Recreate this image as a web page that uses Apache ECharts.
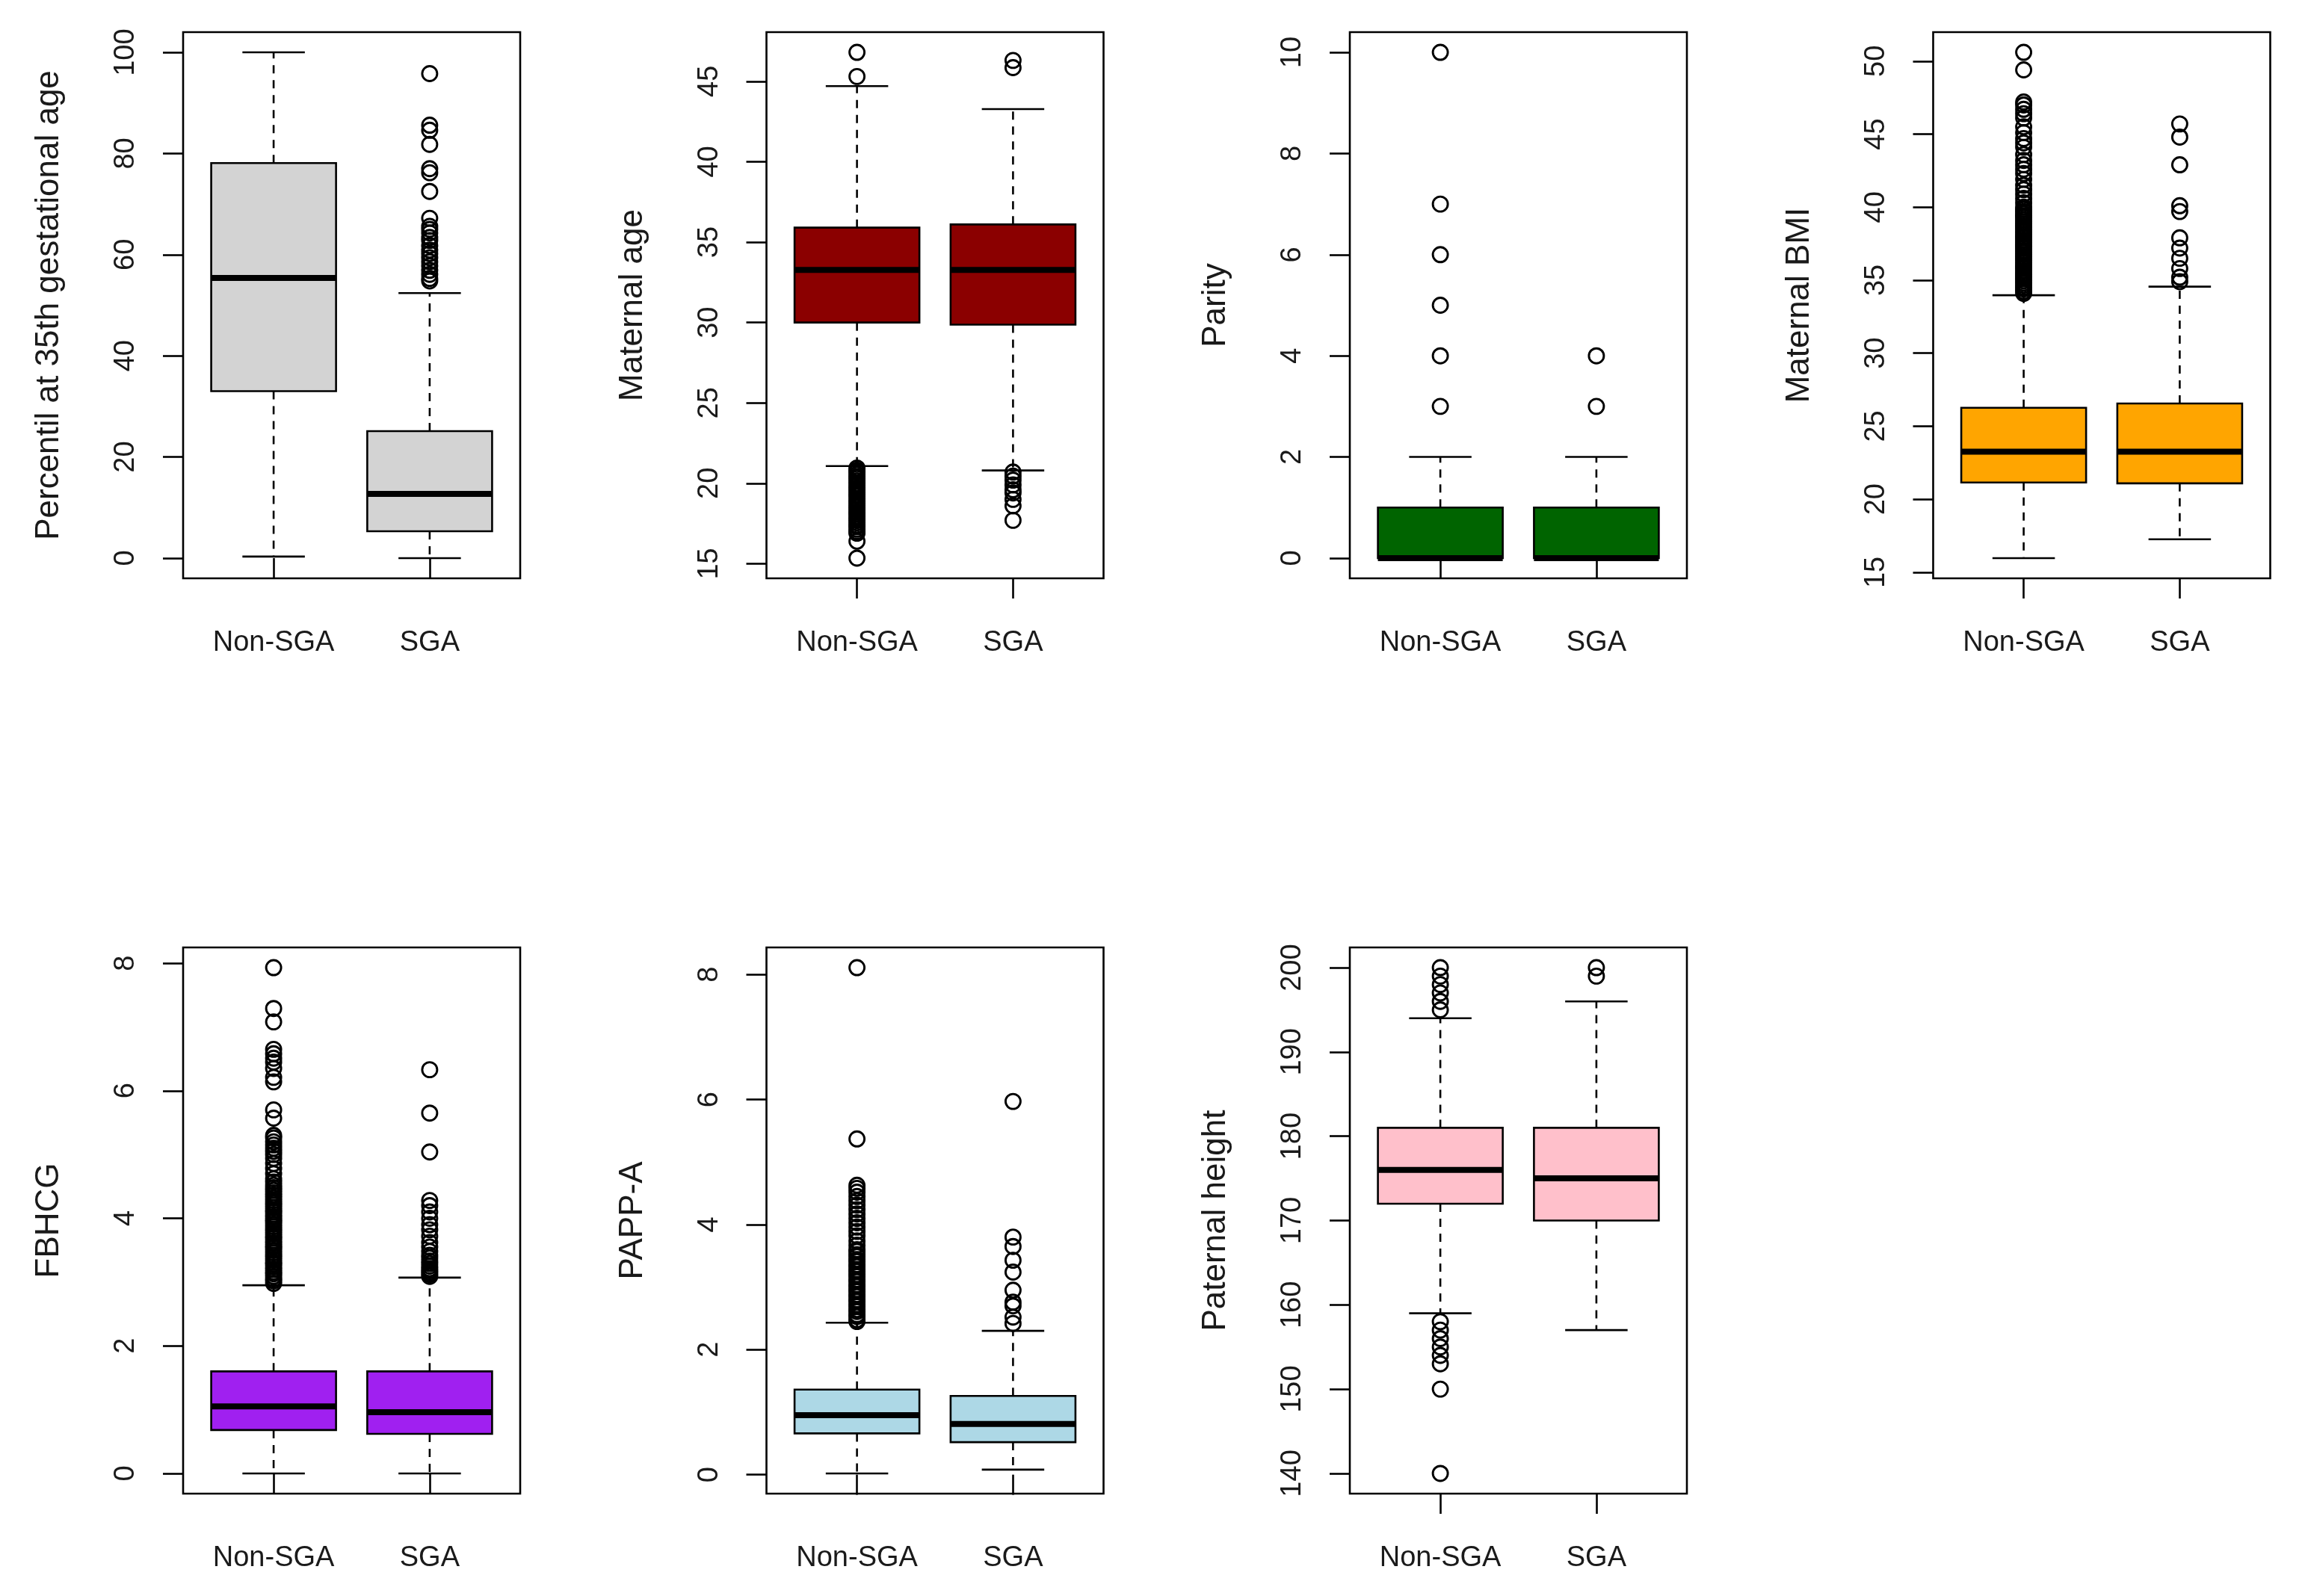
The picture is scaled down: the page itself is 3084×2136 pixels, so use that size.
<!DOCTYPE html>
<html><head><meta charset="utf-8">
<script src="https://cdn.jsdelivr.net/npm/echarts@6/dist/echarts.min.js"></script>
<style>html,body{margin:0;padding:0;background:#fff}#c{width:3084px;height:2136px}</style>
</head><body><div id="c"></div>
<script>
// ---------------- DATA ----------------
const groups = ['Non-SGA', 'SGA'];
// stats per group: [lower whisker, Q1, median, Q3, upper whisker]

const percentilTitle = 'Percentil at 35th gestational age';
const percentilStats = [[0.3, 33.0, 55.4, 78.1, 100], [0, 5.3, 12.7, 25.1, 52.4]];
const percentilOutliers = [[], [95.8, 85.6, 84.6, 81.8, 77.0, 76.2, 72.5, 67.2, 65.6, 65.0, 64.3, 63.4, 62.8, 61.8, 60.9, 60.2, 59.4, 58.6, 57.8, 56.9, 56.1, 55.3, 54.8]];
const percentilTicks = [0, 20, 40, 60, 80, 100];

const ageTitle = 'Maternal age';
const ageStats = [[21.07, 30.0, 33.27, 35.9, 44.7], [20.8, 29.87, 33.27, 36.1, 43.27]];
const ageOutliers = [
  [46.8, 45.3, 20.95, 20.82, 20.7, 20.55, 20.41, 20.3, 20.16, 20.0, 19.87, 19.72, 19.6, 19.46, 19.31, 19.2, 19.04, 18.9, 18.77, 18.62, 18.5, 18.36, 18.21, 18.1, 17.94, 17.8, 17.69, 17.55, 17.41, 17.3, 17.14, 17.0, 16.9, 16.4, 15.35],
  [46.3, 45.85, 20.7, 20.45, 20.2, 19.9, 19.6, 19.4, 19.0, 18.6, 17.7]
];
const ageTicks = [15, 20, 25, 30, 35, 40, 45];

const parityTitle = 'Parity';
const parityStats = [[0, 0, 0, 1, 2], [0, 0, 0, 1, 2]];
const parityOutliers = [[3, 4, 5, 6, 7, 10], [3, 4]];
const parityTicks = [0, 2, 4, 6, 8, 10];

const bmiTitle = 'Maternal BMI';
const bmiStats = [[15.97, 21.15, 23.26, 26.26, 33.97], [17.26, 21.09, 23.26, 26.56, 34.56]];
const bmiOutliers = [
  [34.1, 34.24, 34.4, 34.51, 34.66, 34.8, 34.95, 35.1, 35.21, 35.36, 35.5, 35.64, 35.8, 35.91, 36.05, 36.2, 36.34, 36.5, 36.61, 36.75, 36.9, 37.04, 37.2, 37.31, 37.45, 37.6, 37.74, 37.9, 38.0, 38.15, 38.3, 38.44, 38.6, 38.71, 38.85, 39.0, 39.14, 39.3, 39.41, 39.55, 39.7, 39.85,
   40.0, 40.3, 40.6, 40.9, 41.2, 41.5, 41.9, 42.3, 42.6, 42.9, 43.2, 43.6, 44.1, 44.4, 44.7, 45.1, 45.5, 46.1, 46.4, 46.7, 47.0, 47.2, 49.4, 50.6],
  [45.7, 44.8, 42.9, 40.1, 39.7, 37.9, 37.2, 36.5, 35.8, 35.2, 34.9]
];
const bmiTicks = [15, 20, 25, 30, 35, 40, 45, 50];

const fbhcgTitle = 'FBHCG';
const fbhcgStats = [[0, 0.68, 1.05, 1.6, 2.95], [0, 0.62, 0.96, 1.6, 3.07]];
const fbhcgOutliers = [
  [2.98, 3.02, 3.05, 3.09, 3.13, 3.16, 3.2, 3.24, 3.28, 3.31, 3.35, 3.39, 3.42, 3.46, 3.5, 3.54, 3.57, 3.61, 3.65, 3.69, 3.72, 3.76, 3.8, 3.83, 3.87, 3.91, 3.95, 3.98, 4.02, 4.06, 4.1, 4.13, 4.17, 4.21, 4.24, 4.28, 4.32, 4.36, 4.4, 4.44, 4.48, 4.52, 4.57, 4.62, 4.7, 4.78, 4.86, 4.94, 5.0, 5.05, 5.1, 5.15, 5.2, 5.26, 5.3,
   5.57, 5.7, 6.14, 6.21, 6.35, 6.45, 6.51, 6.58, 6.65, 7.08, 7.29, 7.93],
  [6.33, 5.65, 5.04, 4.28, 4.2, 4.1, 4.0, 3.9, 3.82, 3.72, 3.62, 3.55, 3.48, 3.42, 3.38, 3.33, 3.29, 3.25, 3.21, 3.18, 3.15, 3.12, 3.09]
];
const fbhcgTicks = [0, 2, 4, 6, 8];

const pappTitle = 'PAPP-A';
const pappStats = [[0.02, 0.66, 0.95, 1.36, 2.43], [0.08, 0.52, 0.81, 1.26, 2.3]];
const pappOutliers = [
  [2.45, 2.48, 2.53, 2.56, 2.61, 2.64, 2.69, 2.72, 2.77, 2.8, 2.85, 2.88, 2.93, 2.96, 3.01, 3.04, 3.09, 3.12, 3.17, 3.2, 3.25, 3.28, 3.33, 3.36, 3.41, 3.44, 3.49, 3.52, 3.57, 3.6, 3.67, 3.74, 3.82, 3.89, 3.96, 4.03, 4.1, 4.17, 4.24, 4.31, 4.38, 4.45, 4.52, 4.58, 4.63, 5.37, 8.11],
  [5.97, 3.8, 3.65, 3.43, 3.24, 2.95, 2.76, 2.7, 2.52, 2.42]
];
const pappTicks = [0, 2, 4, 6, 8];

const heightTitle = 'Paternal height';
const heightStats = [[159, 172, 176, 181, 194], [157, 170, 175, 181, 196]];
const heightOutliers = [[195, 196, 197, 198, 199, 200, 158, 157, 156, 155, 154, 153, 150, 140], [199, 200]];
const heightTicks = [140, 150, 160, 170, 180, 190, 200];

// ---------------- STYLE / LAYOUT ----------------
const FONT = 'Liberation Sans, Arial, Helvetica, sans-serif';
const colLeft = [245, 1025.5, 1806, 2586.5];
const rowTop = [43, 1268];
const plotW = 451, plotH = 731;
const LW = 2.6;

const panels = [
  { title: percentilTitle, stats: percentilStats, out: percentilOutliers, ticks: percentilTicks, color: '#D3D3D3', row: 0, col: 0 },
  { title: ageTitle, stats: ageStats, out: ageOutliers, ticks: ageTicks, color: '#8B0000', row: 0, col: 1 },
  { title: parityTitle, stats: parityStats, out: parityOutliers, ticks: parityTicks, color: '#006400', row: 0, col: 2 },
  { title: bmiTitle, stats: bmiStats, out: bmiOutliers, ticks: bmiTicks, color: '#FFA500', row: 0, col: 3 },
  { title: fbhcgTitle, stats: fbhcgStats, out: fbhcgOutliers, ticks: fbhcgTicks, color: '#A020F0', row: 1, col: 0 },
  { title: pappTitle, stats: pappStats, out: pappOutliers, ticks: pappTicks, color: '#ADD8E6', row: 1, col: 1 },
  { title: heightTitle, stats: heightStats, out: heightOutliers, ticks: heightTicks, color: '#FFC0CB', row: 1, col: 2 }
];

function renderBox(params, api) {
  const x = api.value(0);
  const m = api.value(3);
  const lo = api.coord([x, api.value(1)])[1];
  const q1 = api.coord([x, api.value(2)])[1];
  const md = api.coord([x, m])[1];
  const q3 = api.coord([x, api.value(4)])[1];
  const hi = api.coord([x, api.value(5)])[1];
  const xc = api.coord([x, m])[0];
  const xl = api.coord([x - 0.4, m])[0];
  const xr = api.coord([x + 0.4, m])[0];
  const sl = api.coord([x - 0.2, m])[0];
  const sr = api.coord([x + 0.2, m])[0];
  const fill = api.visual('color');
  const dash = () => ({ stroke: '#000', lineWidth: LW, lineDash: [11, 9], fill: null });
  const solid = () => ({ stroke: '#000', lineWidth: LW, fill: null });
  return {
    type: 'group',
    children: [
      { type: 'line', shape: { x1: xc, y1: q3, x2: xc, y2: hi }, style: dash() },
      { type: 'line', shape: { x1: xc, y1: q1, x2: xc, y2: lo }, style: dash() },
      { type: 'line', shape: { x1: sl, y1: hi, x2: sr, y2: hi }, style: solid() },
      { type: 'line', shape: { x1: sl, y1: lo, x2: sr, y2: lo }, style: solid() },
      { type: 'rect', shape: { x: xl, y: q3, width: xr - xl, height: q1 - q3 }, style: { fill: fill, stroke: '#000', lineWidth: LW } },
      { type: 'line', shape: { x1: xl, y1: md, x2: xr, y2: md }, style: { stroke: '#000', lineWidth: 8, lineCap: 'butt', fill: null } }
    ]
  };
}

const grids = [], xAxes = [], yAxes = [], series = [];
panels.forEach((p, i) => {
  const all = p.stats.flat().concat(p.out.flat());
  const mn = Math.min(...all), mx = Math.max(...all);
  const pad = 0.04 * (mx - mn);
  grids.push({
    left: colLeft[p.col], top: rowTop[p.row], width: plotW, height: plotH,
    show: true, borderColor: '#000', borderWidth: LW, backgroundColor: 'transparent',
    containLabel: false, outerBoundsMode: 'none'
  });
  xAxes.push({
    type: 'value', gridIndex: i, min: 0.42, max: 2.58,
    axisLine: { show: false }, splitLine: { show: false },
    axisTick: { show: true, inside: false, length: 27, customValues: [1, 2], lineStyle: { color: '#000', width: LW } },
    axisLabel: { show: true, customValues: [1, 2], margin: 68, fontSize: 38, fontFamily: FONT, color: '#1a1a1a',
      formatter: v => groups[Math.round(v) - 1] }
  });
  yAxes.push({
    type: 'value', gridIndex: i, min: mn - pad, max: mx + pad,
    name: p.title, nameLocation: 'middle', nameRotate: 90, nameGap: 157,
    nameTextStyle: { fontSize: 44, fontFamily: FONT, color: '#1a1a1a' },
    axisLine: { show: false }, splitLine: { show: false },
    axisTick: { show: true, inside: false, length: 27, customValues: p.ticks, lineStyle: { color: '#000', width: LW } },
    axisLabel: { show: true, customValues: p.ticks, rotate: 90, margin: 57, fontSize: 38, fontFamily: FONT, color: '#1a1a1a', hideOverlap: false }
  });
  series.push({
    type: 'custom', xAxisIndex: i, yAxisIndex: i, silent: true, z: 2, clip: false,
    renderItem: renderBox,
    itemStyle: { color: p.color },
    encode: { x: 0, y: [1, 2, 3, 4, 5] },
    data: p.stats.map((s, k) => [k + 1].concat(s))
  });
  const pts = [];
  p.out.forEach((arr, k) => arr.forEach(v => pts.push([k + 1, v])));
  series.push({
    type: 'scatter', xAxisIndex: i, yAxisIndex: i, silent: true, z: 3,
    symbol: 'circle', symbolSize: 20,
    itemStyle: { color: 'rgba(0,0,0,0)', borderColor: '#000', borderWidth: 2.9, opacity: 1 },
    data: pts
  });
});

const chart = echarts.init(document.getElementById('c'), null, { renderer: 'canvas' });
chart.setOption({
  animation: false,
  backgroundColor: '#fff',
  grid: grids, xAxis: xAxes, yAxis: yAxes, series: series
});
</script></body></html>
